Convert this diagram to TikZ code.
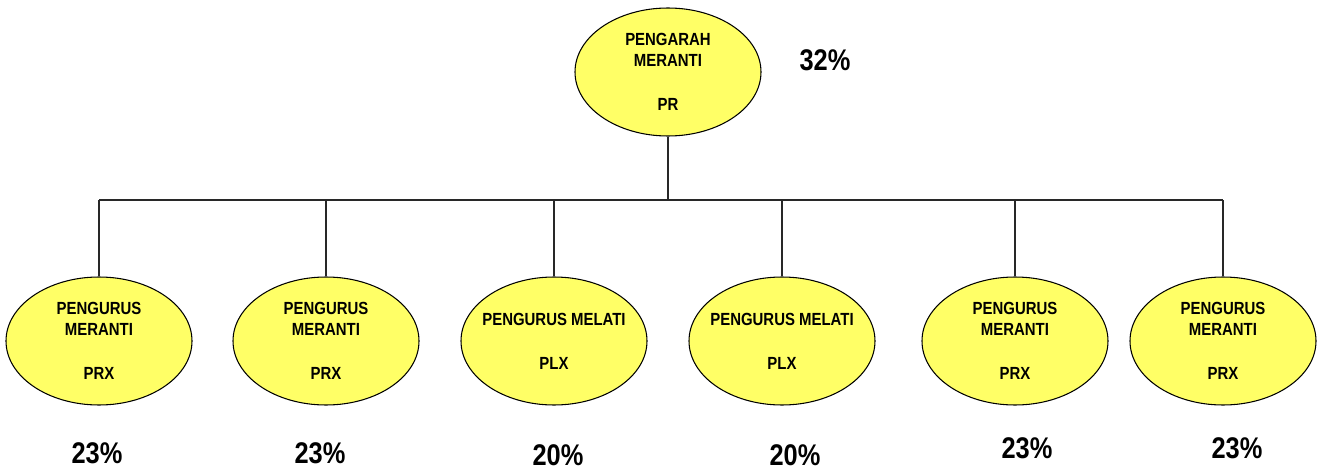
\documentclass[tikz,border=0pt]{standalone}
\usepackage{fontspec}
\setmainfont{Liberation Sans}[FakeStretch=0.85]
\usetikzlibrary{shapes.geometric, positioning}
\definecolor{unityellow}{RGB}{255,255,102}
\definecolor{linegray}{RGB}{40,40,40}

\begin{document}
\begin{tikzpicture}[
    unit/.style={ellipse, draw=black, fill=unityellow, line width=0.6pt, minimum width=3.72cm, minimum height=2.56cm, inner xsep=-4mm, inner ysep=0pt, align=center, font=\fontsize{10}{12}\selectfont\bfseries},
    share/.style={font=\fontsize{17}{20}\selectfont\bfseries, inner sep=0pt},
    link/.style={line width=0.6pt, color=linegray}
]
\useasboundingbox (0,0) rectangle (26.4,9.4);
\node[unit] (pr) at (13.36,7.96) {PENGARAH\\MERANTI\\[13pt]PR};
\node[share] (prshare) at (16.5,8.2) {32\%};
\coordinate (bus) at (0,5.4);
\node[unit] (prxa) at (1.98,2.58) {PENGURUS\\MERANTI\\[13pt]PRX};
\node[unit] (prxb) at (6.52,2.58) {PENGURUS\\MERANTI\\[13pt]PRX};
\node[unit] (plxa) at (11.08,2.58) {PENGURUS MELATI\\[13pt]PLX};
\node[unit] (plxb) at (15.64,2.58) {PENGURUS MELATI\\[13pt]PLX};
\node[unit] (prxc) at (20.30,2.58) {PENGURUS\\MERANTI\\[13pt]PRX};
\node[unit] (prxd) at (24.46,2.58) {PENGURUS\\MERANTI\\[13pt]PRX};
\node[share] (prxashare) at (1.94,0.34) {23\%};
\node[share] (prxbshare) at (6.40,0.34) {23\%};
\node[share] (plxashare) at (11.16,0.30) {20\%};
\node[share] (plxbshare) at (15.90,0.30) {20\%};
\node[share] (prxcshare) at (20.54,0.44) {23\%};
\node[share] (prxdshare) at (24.74,0.44) {23\%};
\draw[link] (pr.south) -- (pr.south |- bus);
\draw[link] (prxa.north |- bus) -- (prxd.north |- bus);
\draw[link] (prxa.north) -- (prxa.north |- bus);
\draw[link] (prxb.north) -- (prxb.north |- bus);
\draw[link] (plxa.north) -- (plxa.north |- bus);
\draw[link] (plxb.north) -- (plxb.north |- bus);
\draw[link] (prxc.north) -- (prxc.north |- bus);
\draw[link] (prxd.north) -- (prxd.north |- bus);
\end{tikzpicture}
\end{document}
